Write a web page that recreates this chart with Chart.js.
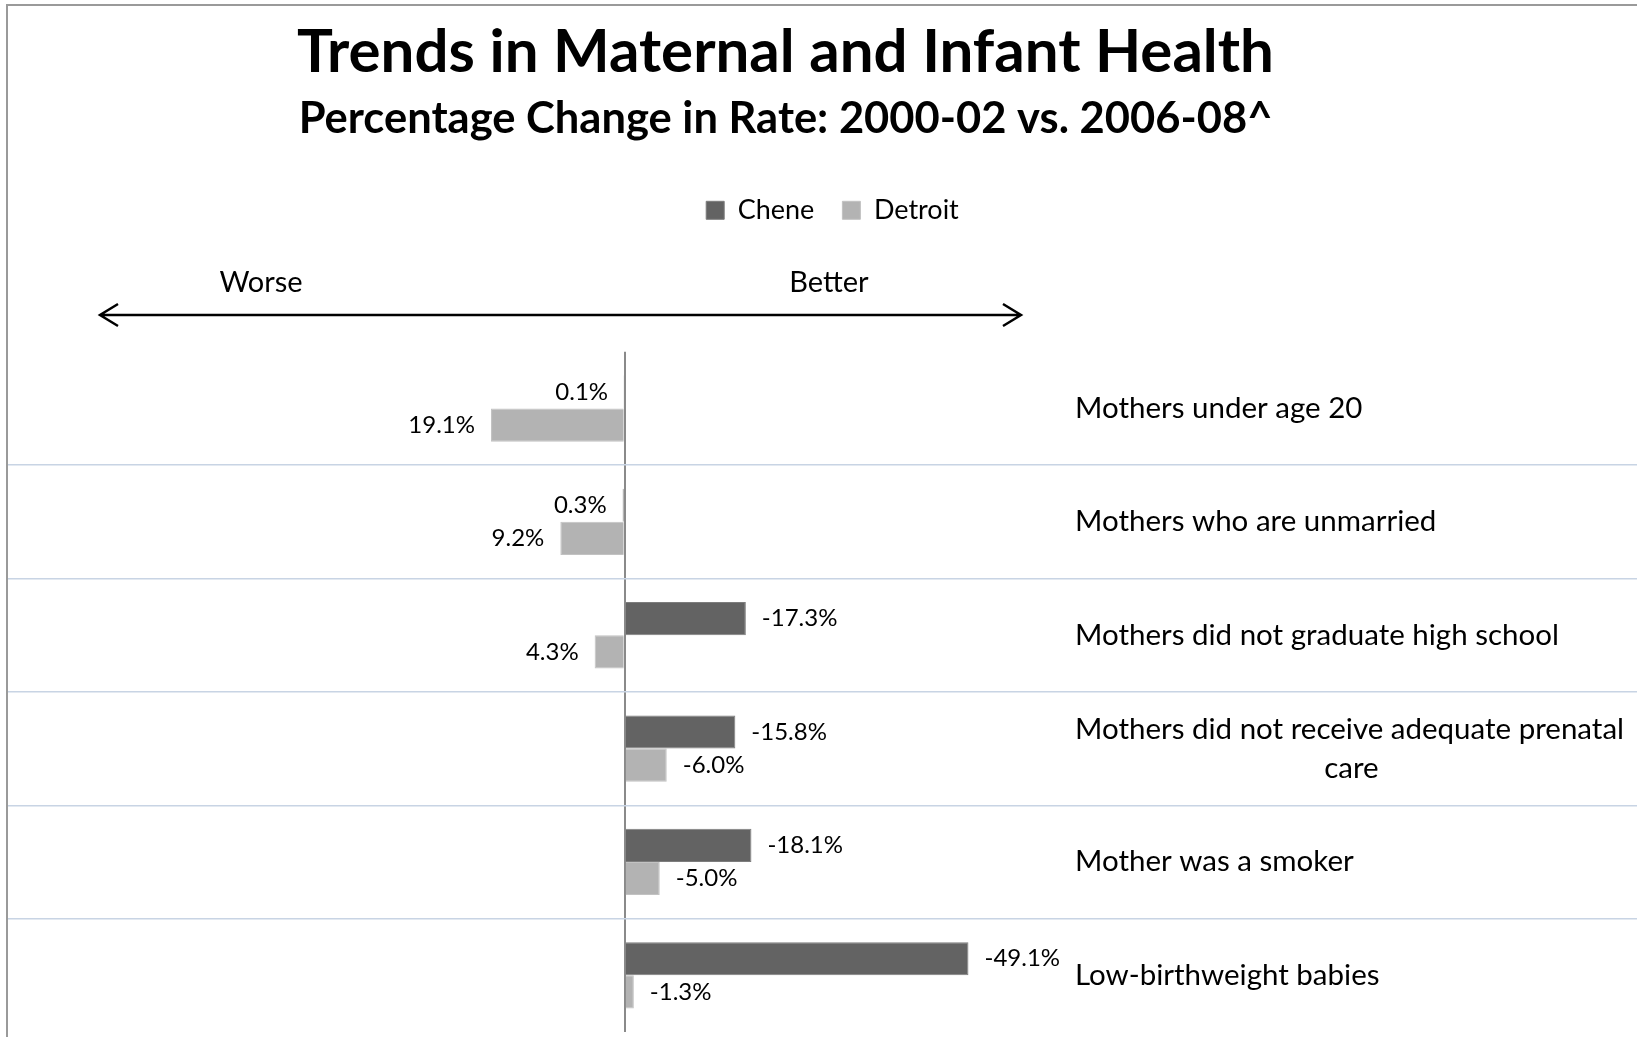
<!DOCTYPE html>
<html>
<head>
<meta charset="utf-8">
<title>Trends in Maternal and Infant Health</title>
<script src="https://cdn.jsdelivr.net/npm/chart.js@4.4.1/dist/chart.umd.min.js"></script>
<style>
  html, body { margin: 0; padding: 0; background: #fff; overflow: hidden; }
  #moldura { position: absolute; left: 6px; top: 4px; width: 1700px; height: 1100px;
             border-top: 2px solid #9a9a9a; border-left: 2px solid #9a9a9a; }
  #grafico { position: absolute; left: 0; top: 0; }
</style>
</head>
<body>
<div id="moldura"></div>
<canvas id="grafico" width="1637" height="1037"></canvas>
<script>
  const categorias = [
    'Mothers under age 20',
    'Mothers who are unmarried',
    'Mothers did not graduate high school',
    ['Mothers did not receive adequate prenatal', 'care'],
    'Mother was a smoker',
    'Low-birthweight babies'
  ];
  const series = ['Chene', 'Detroit'];
  const chene = [0.1, 0.3, -17.3, -15.8, -18.1, -49.1];
  const detroit = [19.1, 9.2, 4.3, -6.0, -5.0, -1.3];

  const FONTE = 'Lato';
  const TAM_CATEGORIA = 29.5;
  Chart.defaults.font.family = FONTE;
  Chart.defaults.color = '#000';

  // centra a segunda linha de um rotulo com espacos
  const medidor = document.createElement('canvas').getContext('2d');
  function centrarLinhas(linhas, tamanho) {
    if (!Array.isArray(linhas)) return linhas;
    medidor.font = tamanho + 'px ' + FONTE;
    const largura = medidor.measureText(linhas[0]).width;
    const espaco = medidor.measureText(' ').width;
    return linhas.map((l, i) => {
      if (i === 0) return l;
      const n = Math.round((largura - medidor.measureText(l).width) / 2 / espaco);
      return ' '.repeat(Math.max(n, 0)) + l;
    });
  }

  const rotulosBarras = {
    id: 'rotulosBarras',
    afterDatasetsDraw(chart) {
      const ctx = chart.ctx;
      ctx.save();
      ctx.font = '24px ' + FONTE;
      ctx.fillStyle = '#000';
      ctx.textBaseline = 'middle';
      chart.data.datasets.forEach((ds, i) => {
        chart.getDatasetMeta(i).data.forEach((barra, j) => {
          const valor = ds.data[j];
          const texto = valor.toFixed(1) + '%';
          // eixo invertido: valores positivos ficam a esquerda
          const esquerda = valor >= 0;
          ctx.textAlign = esquerda ? 'right' : 'left';
          ctx.fillText(texto, barra.x + (esquerda ? -16 : 16), barra.y);
        });
      });
      ctx.restore();
    }
  };

  const setas = {
    id: 'setas',
    afterDraw(chart) {
      const ctx = chart.ctx;
      ctx.save();
      ctx.fillStyle = '#000';
      ctx.font = '29px ' + FONTE;
      ctx.textAlign = 'center';
      ctx.textBaseline = 'middle';
      ctx.fillText('Worse', 261, 283);
      ctx.fillText('Better', 829, 283);
      ctx.strokeStyle = '#000';
      ctx.lineWidth = 2.5;
      ctx.beginPath();
      ctx.moveTo(100, 315); ctx.lineTo(1021, 315);
      ctx.moveTo(118, 304); ctx.lineTo(100, 315); ctx.lineTo(118, 326);
      ctx.moveTo(1003, 304); ctx.lineTo(1021, 315); ctx.lineTo(1003, 326);
      ctx.stroke();
      ctx.restore();
    }
  };

  const ajusteTopo = {
    id: 'ajusteTopo',
    beforeInit(chart) {
      const fitOriginal = chart.legend.fit;
      chart.legend.fit = function () {
        fitOriginal.bind(chart.legend)();
        this.height += 118;
      };
    },
    afterLayout(chart) {
      chart.boxes.forEach(b => {
        if (b === chart.legend) {
          b.left += 10; b.right += 10;
        } else if (b.options && b.options.position === 'top' && b.options.text) {
          b.left -= 37; b.right -= 37;
        }
      });
    }
  };

  const ctx = document.getElementById('grafico').getContext('2d');
  new Chart(ctx, {
    type: 'bar',
    data: {
      labels: categorias,
      datasets: [{
        label: series[0],
        data: chene,
        backgroundColor: '#636363',
        borderColor: '#7d7d7d',
        borderWidth: 1,
        categoryPercentage: 0.585,
        barPercentage: 1
      }, {
        label: series[1],
        data: detroit,
        backgroundColor: '#b3b3b3',
        borderColor: '#c2c2c2',
        borderWidth: 1,
        categoryPercentage: 0.585,
        barPercentage: 1
      }]
    },
    options: {
      indexAxis: 'y',
      responsive: false,
      animation: false,
      layout: { padding: { left: 8, right: 0, top: 0, bottom: 5 } },
      plugins: {
        title: {
          display: true,
          text: 'Trends in Maternal and Infant Health',
          color: '#000',
          font: { size: 60, weight: 'bold', lineHeight: 1 },
          padding: { top: 22.6, bottom: 0 }
        },
        subtitle: {
          display: true,
          text: 'Percentage Change in Rate: 2000-02 vs. 2006-08^',
          color: '#000',
          font: { size: 43.5, weight: 'bold' },
          padding: { top: 10.7, bottom: 23.3 }
        },
        legend: {
          position: 'top',
          labels: { color: '#000', font: { size: 27 }, boxWidth: 18, boxHeight: 18, padding: 28 }
        },
        tooltip: { enabled: false }
      },
      scales: {
        x: {
          type: 'linear',
          reverse: true,
          min: -144.6,
          max: 88.1,
          border: { display: false },
          ticks: { display: false, stepSize: 10 },
          grid: {
            drawTicks: false,
            lineWidth: 2,
            color: c => (c.tick && c.tick.value === 0) ? '#8a8a8a' : 'transparent'
          }
        },
        y: {
          position: 'left',
          border: { display: false },
          grid: {
            drawTicks: false,
            lineWidth: 1.5,
            color: c => c.index > 0 ? '#c8d4e4' : 'transparent'
          },
          ticks: {
            mirror: true,
            padding: 1067,
            color: '#000',
            font: { size: TAM_CATEGORIA, lineHeight: 1.32 },
            callback: function (valor) {
              return centrarLinhas(this.getLabelForValue(valor), TAM_CATEGORIA);
            }
          },
          afterFit(escala) {
            escala.width = 0;
            escala.paddingTop = 0;
            escala.paddingBottom = 0;
          }
        }
      }
    },
    plugins: [rotulosBarras, setas, ajusteTopo]
  });
</script>
</body>
</html>
